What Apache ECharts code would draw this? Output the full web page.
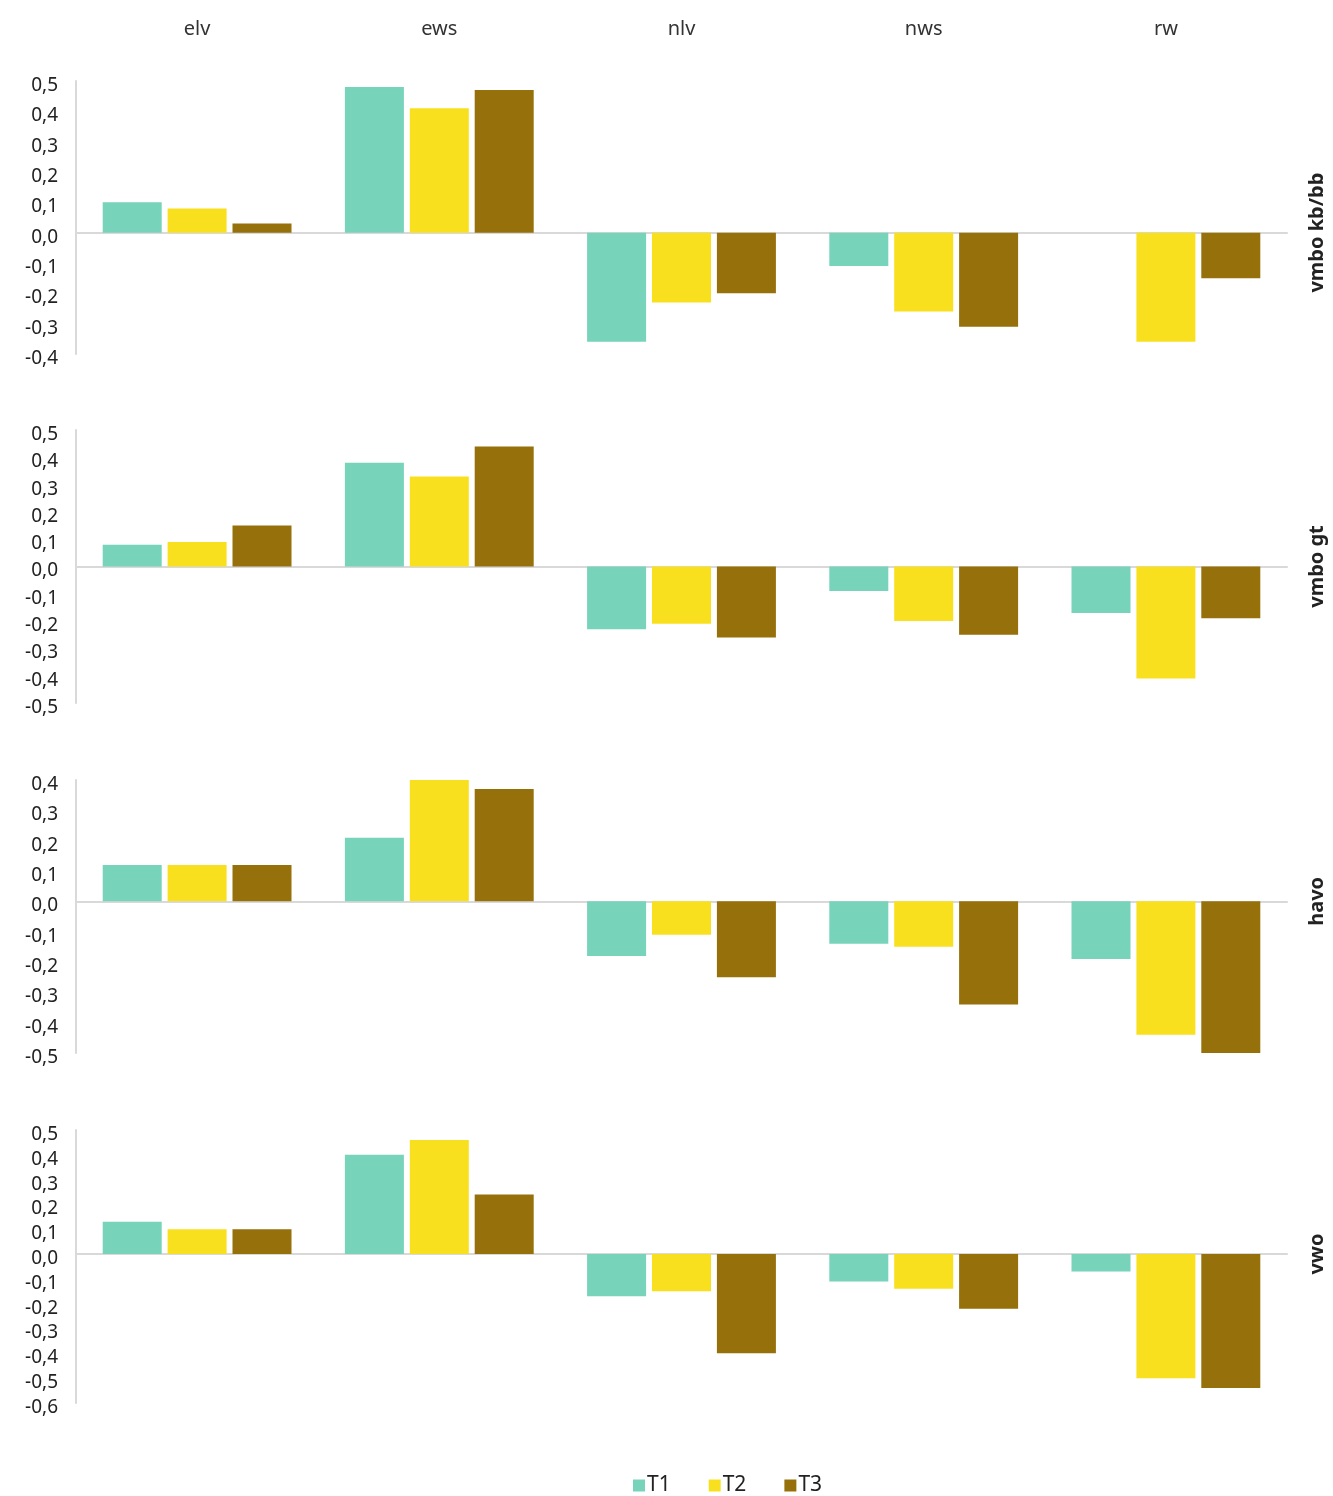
<!DOCTYPE html>
<html>
<head>
<meta charset="utf-8">
<script src="https://cdn.jsdelivr.net/npm/echarts@6/dist/echarts.min.js"></script>
<style>
html,body{margin:0;padding:0;background:#fff;}
#chart{width:1333px;height:1496px;}
</style>
</head>
<body>
<div id="chart"></div>
<script>
const categories = ['elv', 'ews', 'nlv', 'nws', 'rw'];
const seriesNames = ['T1', 'T2', 'T3'];
const panelNames = ['vmbo kb/bb', 'vmbo gt', 'havo', 'vwo'];
const panelMin = [-0.4, -0.5, -0.5, -0.6];
const panelMax = [0.5, 0.5, 0.4, 0.5];

// values per panel: [T1, T2, T3], each over categories
const vmboKbBbT1 = [0.10, 0.48, -0.36, -0.11, 0];
const vmboKbBbT2 = [0.08, 0.41, -0.23, -0.26, -0.36];
const vmboKbBbT3 = [0.03, 0.47, -0.20, -0.31, -0.15];

const vmboGtT1 = [0.08, 0.38, -0.23, -0.09, -0.17];
const vmboGtT2 = [0.09, 0.33, -0.21, -0.20, -0.41];
const vmboGtT3 = [0.15, 0.44, -0.26, -0.25, -0.19];

const havoT1 = [0.12, 0.21, -0.18, -0.14, -0.19];
const havoT2 = [0.12, 0.40, -0.11, -0.15, -0.44];
const havoT3 = [0.12, 0.37, -0.25, -0.34, -0.50];

const vwoT1 = [0.13, 0.40, -0.17, -0.11, -0.07];
const vwoT2 = [0.10, 0.46, -0.15, -0.14, -0.50];
const vwoT3 = [0.10, 0.24, -0.40, -0.22, -0.54];

const panelData = [
  [vmboKbBbT1, vmboKbBbT2, vmboKbBbT3],
  [vmboGtT1, vmboGtT2, vmboGtT3],
  [havoT1, havoT2, havoT3],
  [vwoT1, vwoT2, vwoT3]
];

const colors = ['#77d3b9', '#f8e01e', '#95700b'];
const FONT = 'Noto Sans';
const gridTops = [81, 430, 780, 1130];
const gridHeight = 273;

const chart = echarts.init(document.getElementById('chart'));

const grids = [], xAxes = [], yAxes = [], series = [];
gridTops.forEach((top, i) => {
  grids.push({left: 76, right: 46, top: top, height: gridHeight, containLabel: false});
  xAxes.push({
    type: 'category', gridIndex: i, data: categories,
    axisLine: {show: true, onZero: true, lineStyle: {color: '#d9d9d9', width: 2}},
    axisTick: {show: false}, axisLabel: {show: false}, splitLine: {show: false}
  });
  yAxes.push({
    type: 'value', gridIndex: i, min: panelMin[i], max: panelMax[i], interval: 0.1,
    axisLine: {show: true, lineStyle: {color: '#d9d9d9', width: 2}},
    axisTick: {show: false}, splitLine: {show: false},
    axisLabel: {
      color: '#222', fontSize: 19, fontFamily: FONT, margin: 18,
      verticalAlign: 'top', lineHeight: 9,
      formatter: v => (Math.round(v * 10) / 10).toFixed(1).replace('.', ',')
    }
  });
  seriesNames.forEach((name, s) => {
    series.push({
      name: name, type: 'bar', xAxisIndex: i, yAxisIndex: i,
      data: panelData[i][s], barWidth: 59, barGap: '10%',
      itemStyle: {color: colors[s]}, animation: false
    });
  });
});
// top category labels
xAxes.push({
  type: 'category', gridIndex: 0, data: categories, position: 'top',
  axisLine: {show: false}, axisTick: {show: false}, splitLine: {show: false},
  axisLabel: {show: true, color: '#333', fontSize: 20, fontFamily: FONT, margin: 42}
});

chart.setOption({
  backgroundColor: '#fff',
  animation: false,
  textStyle: {fontFamily: FONT},
  color: colors,
  grid: grids,
  xAxis: xAxes,
  yAxis: yAxes,
  legend: {
    data: seriesNames, top: 1470, left: 628, itemWidth: 12, itemHeight: 12,
    icon: 'rect', itemGap: 38,
    textStyle: {color: '#222', fontSize: 21, fontFamily: FONT, padding: [0, 0, 0, -3]}
  },
  series: series
});

// right-side panel labels centred at each panel's zero line
const graphics = panelNames.map((name, i) => {
  const p = chart.convertToPixel({xAxisIndex: i, yAxisIndex: i}, [0, 0]);
  return {
    type: 'text', x: 1317, y: p[1], rotation: Math.PI / 2,
    style: {text: name, fill: '#222', font: 'bold 20px ' + FONT, align: 'center', verticalAlign: 'middle'}
  };
});
chart.setOption({graphic: graphics});
</script>
</body>
</html>
